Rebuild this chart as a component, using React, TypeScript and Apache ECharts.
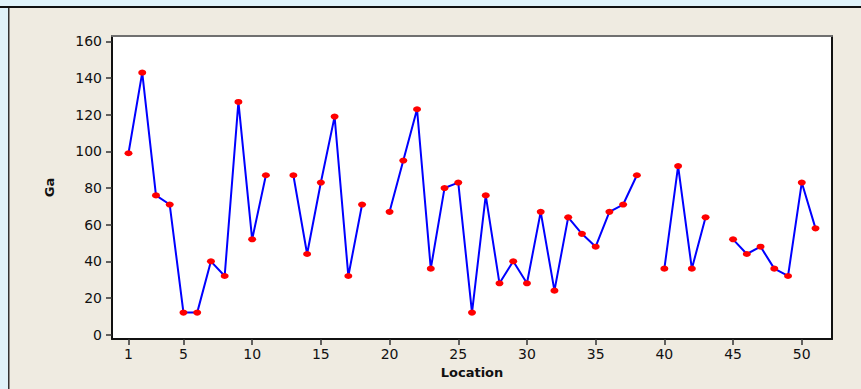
import React, { useEffect, useRef } from "react";
import * as echarts from "echarts";

const locations: number[] = Array.from({ length: 51 }, (_, i) => i + 1);
const gaValues: (number | null)[] = [
  99, 143, 76, 71, 12, 12, 40, 32, 127, 52,
  87, null, 87, 44, 83, 119, 32, 71, null, 67,
  95, 123, 36, 80, 83, 12, 76, 28, 40, 28,
  67, 24, 64, 55, 48, 67, 71, 87, null, 36,
  92, 36, 64, null, 52, 44, 48, 36, 32, 83,
  58,
];
const xTicks: number[] = [1, 5, 10, 15, 20, 25, 30, 35, 40, 45, 50];
const yTicks: number[] = [0, 20, 40, 60, 80, 100, 120, 140, 160];

export default function App() {
  const ref = useRef<HTMLDivElement>(null);
  useEffect(() => {
    document.body.style.margin = "0";
    if (!ref.current) return;
    const chart = echarts.init(ref.current, undefined, { renderer: "svg" });
    const font = "DejaVu Sans";
    chart.setOption({
      animation: false,
      backgroundColor: "#e0f3fa",
      textStyle: { fontFamily: font },
      graphic: [
        { type: "rect", z: -10, shape: { x: 9, y: 8, width: 852, height: 381 }, style: { fill: "#efebe1" } },
        { type: "rect", z: -9, shape: { x: 0, y: 6, width: 861, height: 2 }, style: { fill: "#111" } },
        { type: "rect", z: -9, shape: { x: 8, y: 8, width: 1.5, height: 381 }, style: { fill: "#333" } },
      ],
      grid: {
        left: 112,
        top: 36,
        right: 29,
        bottom: 50,
        show: true,
        backgroundColor: "#ffffff",
        borderWidth: 0,
      },
      xAxis: [
        {
          type: "value",
          min: -0.2,
          max: 52.2,
          name: "Location",
          nameLocation: "middle",
          nameGap: 26,
          nameTextStyle: { fontWeight: "bold", fontSize: 13, color: "#111", fontFamily: font },
          splitLine: { show: false },
          axisLine: { show: true, onZero: false, lineStyle: { color: "#111", width: 2 } },
          axisTick: { show: true, customValues: xTicks, length: 6, lineStyle: { color: "#333", width: 1.5 } },
          axisLabel: { customValues: xTicks, fontSize: 14, color: "#111", margin: 8, fontFamily: font },
        },
        {
          type: "value",
          position: "top",
          min: -0.2,
          max: 52.2,
          splitLine: { show: false },
          axisLine: { show: true, onZero: false, lineStyle: { color: "#707070", width: 2 } },
          axisTick: { show: false },
          axisLabel: { show: false },
        },
      ],
      yAxis: [
        {
          type: "value",
          min: -2.4,
          max: 163,
          name: "Ga",
          nameLocation: "middle",
          nameGap: 56,
          nameRotate: 90,
          nameTextStyle: { fontWeight: "bold", fontSize: 13, color: "#111", fontFamily: font },
          splitLine: { show: false },
          axisLine: { show: true, onZero: false, lineStyle: { color: "#111", width: 2 } },
          axisTick: { show: true, customValues: yTicks, length: 6, lineStyle: { color: "#333", width: 1.5 } },
          axisLabel: { customValues: yTicks, fontSize: 14, color: "#111", margin: 10, fontFamily: font },
        },
        {
          type: "value",
          position: "right",
          min: -2.4,
          max: 163,
          splitLine: { show: false },
          axisLine: { show: true, onZero: false, lineStyle: { color: "#111", width: 2 } },
          axisTick: { show: false },
          axisLabel: { show: false },
        },
      ],
      series: [
        {
          type: "line",
          xAxisIndex: 0,
          yAxisIndex: 0,
          data: locations.map((x, i) => [x, gaValues[i]]),
          connectNulls: false,
          lineStyle: { color: "#0000ff", width: 2 },
          itemStyle: { color: "#ff0000" },
          symbol: "circle",
          symbolSize: [8, 6],
          showAllSymbol: true,
        },
      ],
    });
    return () => chart.dispose();
  }, []);
  return <div ref={ref} style={{ width: 861, height: 389 }} />;
}
